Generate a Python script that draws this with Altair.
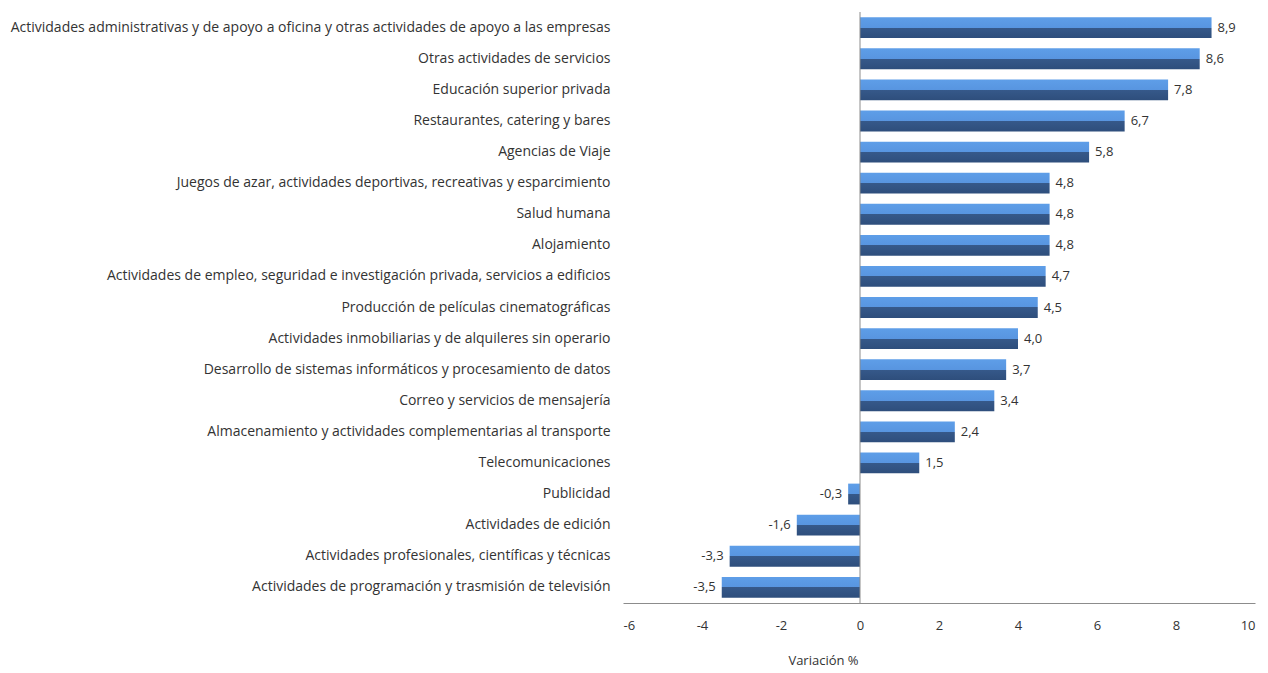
import altair as alt
import pandas as pd

categories = [
    "Actividades administrativas y de apoyo a oficina y otras actividades de apoyo a las empresas",
    "Otras actividades de servicios",
    "Educación superior privada",
    "Restaurantes, catering y bares",
    "Agencias de Viaje",
    "Juegos de azar, actividades deportivas, recreativas y esparcimiento",
    "Salud humana",
    "Alojamiento",
    "Actividades de empleo, seguridad e investigación privada, servicios a edificios",
    "Producción de películas cinematográficas",
    "Actividades inmobiliarias y de alquileres sin operario",
    "Desarrollo de sistemas informáticos y procesamiento de datos",
    "Correo y servicios de mensajería",
    "Almacenamiento y actividades complementarias al transporte",
    "Telecomunicaciones",
    "Publicidad",
    "Actividades de edición",
    "Actividades profesionales, científicas y técnicas",
    "Actividades de programación y trasmisión de televisión",
]
values = [8.9, 8.6, 7.8, 6.7, 5.8, 4.8, 4.8, 4.8, 4.7, 4.5, 4.0, 3.7, 3.4, 2.4, 1.5, -0.3, -1.6, -3.3, -3.5]
x_ticks = [-6, -4, -2, 0, 2, 4, 6, 8, 10]

df = pd.DataFrame({"cat": categories, "val": values})
df["label"] = df["val"].map(lambda v: f"{v:.1f}".replace(".", ","))

FONT = "Open Sans"
LFS = 14

xscale = alt.Scale(domain=[-6, 10], nice=False, zero=False)
yenc = alt.Y("cat:N", sort=categories, title=None,
             scale=alt.Scale(paddingInner=0.33, paddingOuter=0.17),
             axis=alt.Axis(domain=False, ticks=False, labelLimit=1000, labelPadding=13,
                           labelFont=FONT, labelFontSize=LFS, labelColor="#333333"))

grad = alt.Gradient(
    gradient="linear", x1=0, x2=0, y1=0, y2=1,
    stops=[alt.GradientStop(offset=0, color="#5E9EE8"),
           alt.GradientStop(offset=0.5, color="#5895E0"),
           alt.GradientStop(offset=0.5, color="#36598A"),
           alt.GradientStop(offset=1, color="#2E4E7C")],
)

bars = alt.Chart(df).mark_bar(color=grad).encode(
    x=alt.X("val:Q", scale=xscale, title="Variación %",
            axis=alt.Axis(values=x_ticks, grid=False, ticks=False, domainColor="#8C8C8C",
                          labelExpr="'' + datum.value",
                          labelPadding=16, labelFont=FONT, labelFontSize=13, labelColor="#333333",
                          titleFont=FONT, titleFontSize=13, titleFontWeight="normal",
                          titleColor="#333333", titlePadding=22, titleX=200)),
    y=yenc,
)

pos = alt.Chart(df).transform_filter("datum.val >= 0").mark_text(
    align="left", dx=6, font=FONT, fontSize=13, color="#333333").encode(
    x=alt.X("val:Q", scale=xscale), y=alt.Y("cat:N", sort=categories), text="label:N")
neg = alt.Chart(df).transform_filter("datum.val < 0").mark_text(
    align="right", dx=-6, font=FONT, fontSize=13, color="#333333").encode(
    x=alt.X("val:Q", scale=xscale), y=alt.Y("cat:N", sort=categories), text="label:N")

zero = alt.Chart(pd.DataFrame({"z": [0]})).mark_rule(color="#8C8C8C", strokeWidth=1).encode(
    x=alt.X("z:Q", scale=xscale))

chart = alt.layer(bars, zero, pos, neg).properties(
    width=632, height=591,
    autosize=alt.AutoSizeParams(type="none"),
    padding={"left": 615, "top": 4, "right": 5, "bottom": 70},
    background="white",
).configure_view(strokeWidth=0, stroke="transparent")

chart.save("out.html", embed_options={"renderer": "svg", "actions": False})
